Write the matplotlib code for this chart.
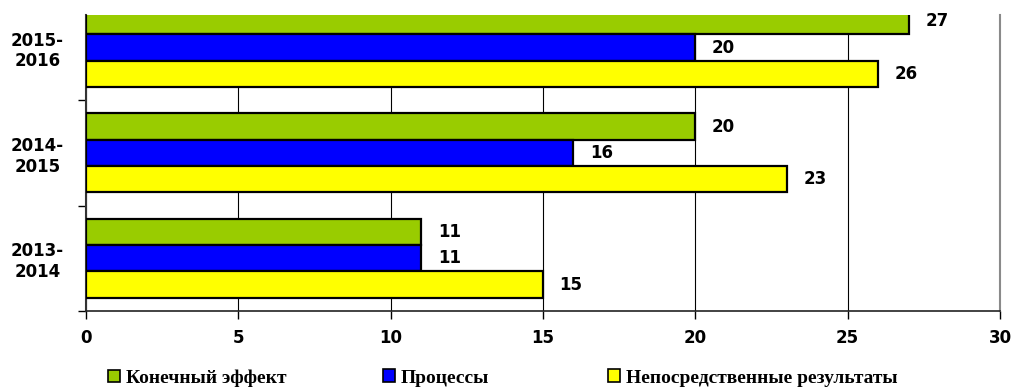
import numpy as np
import matplotlib
matplotlib.use('Agg')
import matplotlib.pyplot as plt
from matplotlib.patches import Patch

# data
periods = ['2013-\n2014', '2014-\n2015', '2015-\n2016']
final_effect = [11, 20, 27]
processes = [11, 16, 20]
direct_results = [15, 23, 26]

series_names = ['Конечный эффект', 'Процессы', 'Непосредственные результаты']
colors = ['#99CC00', '#0000FF', '#FFFF00']

plt.rcParams['font.family'] = ['DejaVu Sans']

fig = plt.figure(figsize=(10.11, 3.87), dpi=100)
# plot area: the top group is cut off in the reference
ax = fig.add_axes([86 / 1011, 76 / 387, 914 / 1011, 296 / 387])

y = np.arange(len(periods))
h = 0.25
series = [final_effect, processes, direct_results]
offsets = [h, 0, -h]

for vals, off, col in zip(series, offsets, colors):
    bars = ax.barh(y + off, vals, height=h, color=col, edgecolor='black', linewidth=1.6, zorder=3)
    for b, v in zip(bars, vals):
        ax.annotate(str(v), xy=(b.get_width(), b.get_y() + b.get_height() / 2),
                    xytext=(12, 0), textcoords='offset points', va='center', ha='left',
                    fontsize=12, fontweight='bold', annotation_clip=False)

ax.set_xlim(0, 30)
ax.set_ylim(-0.5, 2.31)
ax.set_xticks(range(0, 31, 5))
ax.set_yticks(y)
ax.set_yticklabels(periods, fontsize=12, fontweight='bold', ha='center', multialignment='center')
ax.set_yticks([-0.5, 0.5, 1.5], minor=True)
ax.tick_params(axis='y', which='major', length=0, pad=35)
ax.tick_params(axis='y', which='minor', length=6, width=1, direction='out')
ax.tick_params(axis='x', length=6, width=1, direction='out', pad=7, labelsize=12)
for lab in ax.get_xticklabels():
    lab.set_fontweight('bold')

ax.grid(axis='x', color='black', linewidth=0.8, zorder=0)
ax.set_axisbelow(True)
ax.spines['top'].set_visible(False)
ax.spines['left'].set_color('#333333')
ax.spines['left'].set_linewidth(1.5)
ax.spines['bottom'].set_color('#222222')
ax.spines['bottom'].set_linewidth(1.2)
ax.spines['right'].set_color('#8a8a8a')
ax.spines['right'].set_linewidth(1.5)

# legend entries sit at fixed spots along the bottom
legend_x = [108, 383, 608]
for name, col, lx in zip(series_names, colors, legend_x):
    fig.legend([Patch(facecolor=col, edgecolor='black', linewidth=1.2)], [name],
               loc='center left', bbox_to_anchor=(lx / 1011, 9 / 387),
               frameon=False, borderpad=0, borderaxespad=0, handlelength=0.6, handleheight=0.6,
               handletextpad=0.3,
               prop={'family': 'Liberation Serif', 'weight': 'bold', 'size': 14})

fig.savefig('out.png', dpi=100)
